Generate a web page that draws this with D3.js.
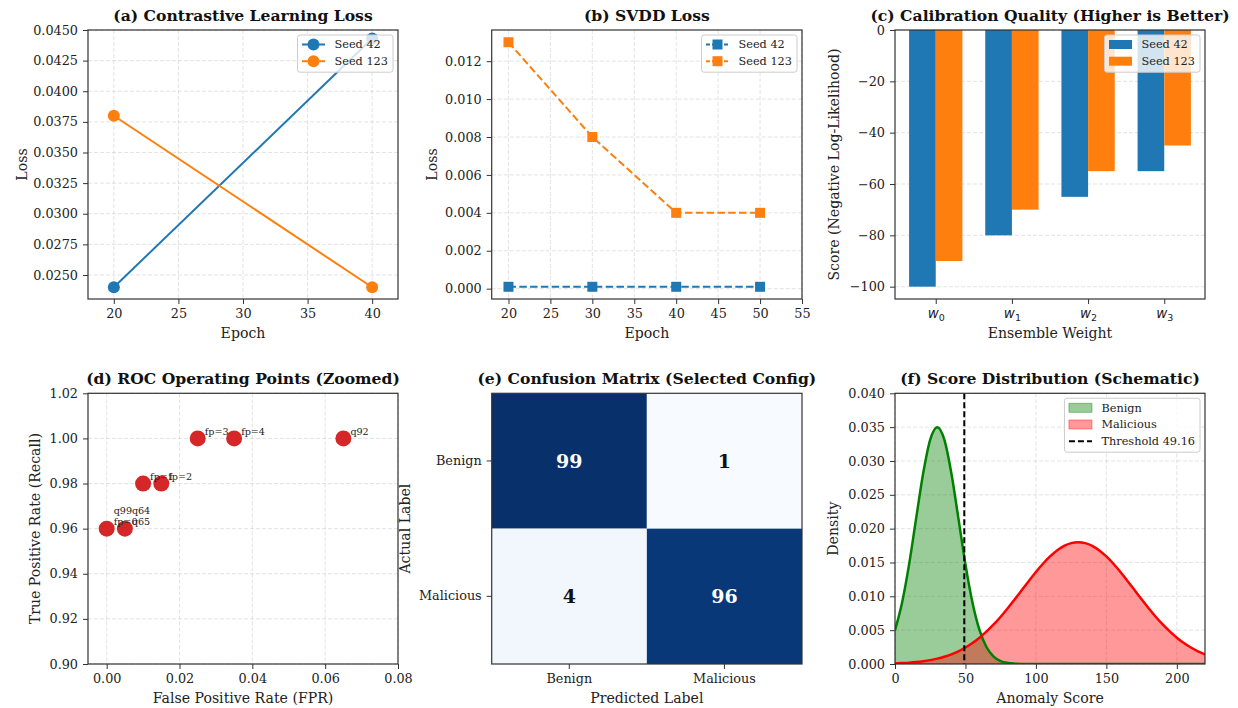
<!DOCTYPE html>
<html>
<head>
<meta charset="utf-8">
<script src="https://cdn.jsdelivr.net/npm/d3@7"></script>
<style>
body { margin: 0; background: #fff; }
svg { display: block; font-family: "DejaVu Serif", serif; }
</style>
</head>
<body>
<svg id="fig" width="1238" height="708"></svg>
<script>
// (a) contrastive learning loss
var contrastEpochs = [20, 40];
var contrastSeed42 = [0.024, 0.0443];
var contrastSeed123 = [0.038, 0.024];

// (b) SVDD loss
var svddEpochs = [20, 30, 40, 50];
var svddSeed42 = [0.0001, 0.0001, 0.0001, 0.0001];
var svddSeed123 = [0.013, 0.008, 0.004, 0.004];

// (c) calibration quality
var weightIdx = ['0', '1', '2', '3'];
var calibSeed42 = [-100, -80, -65, -55];
var calibSeed123 = [-90, -70, -55, -45];

// (d) ROC operating points
var rocFpr = [0, 0.005, 0.01, 0.015, 0.025, 0.035, 0.065];
var rocTpr = [0.96, 0.96, 0.98, 0.98, 1.0, 1.0, 1.0];
var rocLabels = [['fp=0', 'q99'], ['q65', 'q64'], ['fp=1'], ['fp=2'], ['fp=3'], ['fp=4'], ['q92']];

// (e) confusion matrix
var classNames = ['Benign', 'Malicious'];
var confusion = [[99, 1], [4, 96]];

// (f) score distribution
var scoreGrid = [0, 5, 10, 15, 20, 25, 30, 35, 40, 45, 50, 55, 60, 65, 70, 75, 80, 85, 90, 95,
    100, 105, 110, 115, 120, 125, 130, 135, 140, 145, 150, 155, 160, 165, 170, 175, 180, 185,
    190, 195, 200, 205, 210, 215, 220];
var benignDensity = [0.00499, 0.00905, 0.01472, 0.02151, 0.02819, 0.03316, 0.03500, 0.03316,
    0.02819, 0.02151, 0.01472, 0.00905, 0.00499, 0.00247, 0.00110, 0.00044, 0.00016, 0.00005,
    0.00001, 0, 0, 0, 0, 0, 0, 0, 0, 0, 0, 0, 0, 0, 0, 0, 0, 0, 0, 0, 0, 0, 0, 0, 0, 0, 0];
var maliciousDensity = [0.00009, 0.00014, 0.00020, 0.00029, 0.00041, 0.00057, 0.00079, 0.00107,
    0.00143, 0.00188, 0.00244, 0.00310, 0.00389, 0.00481, 0.00584, 0.00699, 0.00824, 0.00956,
    0.01092, 0.01228, 0.01359, 0.01481, 0.01589, 0.01678, 0.01745, 0.01786, 0.01800, 0.01786,
    0.01745, 0.01678, 0.01589, 0.01481, 0.01359, 0.01228, 0.01092, 0.00956, 0.00824, 0.00699,
    0.00584, 0.00481, 0.00389, 0.00310, 0.00244, 0.00188, 0.00143];
var threshold = 49.16;

var BLUE = '#1f77b4', ORANGE = '#ff7f0e', RED = '#d62728';
var SPINE = '#333';
var svg = d3.select('#fig');

var cols = [[88, 398], [491.7, 802], [895, 1205]];
var rows = [[30, 299], [393.3, 664]];

function makePanel(ci, ri, id) {
    var p = { left: cols[ci][0], right: cols[ci][1], top: rows[ri][0], bottom: rows[ri][1], id: id };
    p.g = svg.append('g');
    svg.append('clipPath').attr('id', 'clip-' + id).append('rect')
        .attr('x', p.left).attr('y', p.top)
        .attr('width', p.right - p.left).attr('height', p.bottom - p.top);
    p.gridG = p.g.append('g');
    p.plot = p.g.append('g').attr('clip-path', 'url(#clip-' + id + ')');
    return p;
}

function drawGrid(p, x, y, xt, yt) {
    var g = p.gridG;
    (xt || []).forEach(function(t) {
        g.append('line').attr('x1', x(t)).attr('x2', x(t)).attr('y1', p.top).attr('y2', p.bottom)
            .attr('stroke', '#b0b0b0').attr('stroke-opacity', 0.35).attr('stroke-dasharray', '4,2');
    });
    (yt || []).forEach(function(t) {
        g.append('line').attr('y1', y(t)).attr('y2', y(t)).attr('x1', p.left).attr('x2', p.right)
            .attr('stroke', '#b0b0b0').attr('stroke-opacity', 0.35).attr('stroke-dasharray', '4,2');
    });
}

function styleAxis(sel) {
    sel.select('.domain').remove();
    sel.selectAll('.tick line').attr('stroke', SPINE).attr('stroke-width', 1);
    sel.selectAll('.tick text').attr('fill', '#222').style('font-size', '12.8px')
        .style('font-family', '"DejaVu Serif", serif');
}

function drawAxes(p, xAxis, yAxis) {
    var xg = svg.append('g').attr('transform', 'translate(0,' + p.bottom + ')').call(xAxis);
    styleAxis(xg);
    var yg = svg.append('g').attr('transform', 'translate(' + p.left + ',0)').call(yAxis);
    styleAxis(yg);
    svg.append('rect').attr('x', p.left).attr('y', p.top)
        .attr('width', p.right - p.left).attr('height', p.bottom - p.top)
        .attr('fill', 'none').attr('stroke', SPINE).attr('stroke-width', 1.2);
    return { xg: xg, yg: yg };
}

function labels(p, title, xlabel, ylabel, yOff) {
    svg.append('text').attr('x', (p.left + p.right) / 2).attr('y', p.top - 9.5)
        .attr('text-anchor', 'middle').style('font-size', '15.6px').style('font-weight', 'bold')
        .attr('fill', '#111').text(title);
    if (xlabel) {
        svg.append('text').attr('x', (p.left + p.right) / 2).attr('y', p.bottom + 39)
            .attr('text-anchor', 'middle').style('font-size', '14.1px').attr('fill', '#222').text(xlabel);
    }
    if (ylabel) {
        var lx = p.left - yOff, ly = (p.top + p.bottom) / 2;
        svg.append('text').attr('x', lx).attr('y', ly)
            .attr('transform', 'rotate(-90,' + lx + ',' + ly + ')')
            .attr('text-anchor', 'middle').style('font-size', '14.1px').attr('fill', '#222').text(ylabel);
    }
}

function legend(p, items) {
    var g = svg.append('g');
    var box = g.append('rect');
    var top = p.top + 5, rowH = 16.7;
    var texts = items.map(function(it, i) {
        return g.append('text').attr('y', top + 9.5 + i * rowH).attr('dy', '0.35em')
            .style('font-size', '11.3px').attr('fill', '#222').text(it.label);
    });
    var tw = d3.max(texts, function(t) { return t.node().getComputedTextLength(); });
    var w = 37 + tw + 5, h = 9.5 + (items.length - 1) * rowH + 11;
    var left = p.right - 5 - w;
    box.attr('x', left).attr('y', top).attr('width', w).attr('height', h).attr('rx', 2.5)
        .attr('fill', '#fff').attr('fill-opacity', 0.8).attr('stroke', '#cccccc');
    texts.forEach(function(t) { t.attr('x', left + 37); });
    items.forEach(function(it, i) {
        var cy = top + 9.5 + i * rowH, x0 = left + 4.5, x1 = left + 27.5, cx = (x0 + x1) / 2;
        if (it.type === 'patch') {
            g.append('rect').attr('x', x0).attr('y', cy - 4.5).attr('width', x1 - x0).attr('height', 9)
                .attr('fill', it.color).attr('fill-opacity', it.alpha || 1)
                .attr('stroke', it.edge ? it.color : 'none').attr('stroke-opacity', it.alpha || 1);
        } else {
            g.append('line').attr('x1', x0).attr('x2', x1).attr('y1', cy).attr('y2', cy)
                .attr('stroke', it.color).attr('stroke-width', 2)
                .attr('stroke-dasharray', it.dash || null);
            if (it.marker === 'circle') {
                g.append('circle').attr('cx', cx).attr('cy', cy).attr('r', 6).attr('fill', it.color);
            } else if (it.marker === 'square') {
                g.append('rect').attr('x', cx - 5).attr('y', cy - 5).attr('width', 10).attr('height', 10)
                    .attr('fill', it.color);
            }
        }
    });
}

function zipXY(xs, ys) { return xs.map(function(v, i) { return [v, ys[i]]; }); }

// ---------- (a) ----------
(function() {
    var p = makePanel(0, 0, 'a');
    var x = d3.scaleLinear().domain([18, 42]).range([p.left, p.right]);
    var y = d3.scaleLinear().domain([0.02304, 0.045]).range([p.bottom, p.top]);
    var xt = [20, 25, 30, 35, 40];
    var yt = d3.range(0.025, 0.04501, 0.0025);
    drawGrid(p, x, y, xt, yt);
    var line = d3.line().x(function(d) { return x(d[0]); }).y(function(d) { return y(d[1]); });
    [[contrastSeed42, BLUE], [contrastSeed123, ORANGE]].forEach(function(s) {
        var pts = zipXY(contrastEpochs, s[0]);
        p.plot.append('path').attr('d', line(pts)).attr('fill', 'none').attr('stroke', s[1]).attr('stroke-width', 2);
        p.plot.selectAll(null).data(pts).enter().append('circle')
            .attr('cx', function(d) { return x(d[0]); }).attr('cy', function(d) { return y(d[1]); })
            .attr('r', 6).attr('fill', s[1]);
    });
    drawAxes(p, d3.axisBottom(x).tickValues(xt).tickSize(5).tickPadding(5).tickFormat(d3.format('d')),
        d3.axisLeft(y).tickValues(yt).tickSize(5).tickPadding(5).tickFormat(d3.format('.4f')));
    labels(p, '(a) Contrastive Learning Loss', 'Epoch', 'Loss', 61.3);
    legend(p, [{ label: 'Seed 42', color: BLUE, marker: 'circle' }, { label: 'Seed 123', color: ORANGE, marker: 'circle' }]);
})();

// ---------- (b) ----------
(function() {
    var p = makePanel(1, 0, 'b');
    var x = d3.scaleLinear().domain([18, 55]).range([p.left, p.right]);
    var y = d3.scaleLinear().domain([-0.000545, 0.013645]).range([p.bottom, p.top]);
    var xt = [20, 25, 30, 35, 40, 45, 50, 55];
    var yt = [0, 0.002, 0.004, 0.006, 0.008, 0.010, 0.012];
    drawGrid(p, x, y, xt, yt);
    var line = d3.line().x(function(d) { return x(d[0]); }).y(function(d) { return y(d[1]); });
    [[svddSeed42, BLUE], [svddSeed123, ORANGE]].forEach(function(s) {
        var pts = zipXY(svddEpochs, s[0]);
        p.plot.append('path').attr('d', line(pts)).attr('fill', 'none').attr('stroke', s[1])
            .attr('stroke-width', 2).attr('stroke-dasharray', '7.5,3.3');
        p.plot.selectAll(null).data(pts).enter().append('rect')
            .attr('x', function(d) { return x(d[0]) - 5; }).attr('y', function(d) { return y(d[1]) - 5; })
            .attr('width', 10).attr('height', 10).attr('fill', s[1]);
    });
    drawAxes(p, d3.axisBottom(x).tickValues(xt).tickSize(5).tickPadding(5).tickFormat(d3.format('d')),
        d3.axisLeft(y).tickValues(yt).tickSize(5).tickPadding(5).tickFormat(d3.format('.3f')));
    labels(p, '(b) SVDD Loss', 'Epoch', 'Loss', 55);
    legend(p, [{ label: 'Seed 42', color: BLUE, marker: 'square', dash: '4,2' },
        { label: 'Seed 123', color: ORANGE, marker: 'square', dash: '4,2' }]);
})();

// ---------- (c) ----------
(function() {
    var p = makePanel(2, 0, 'c');
    var x = d3.scaleLinear().domain([-0.535, 3.535]).range([p.left, p.right]);
    var y = d3.scaleLinear().domain([-104.8, 0]).range([p.bottom, p.top]);
    var yt = [0, -20, -40, -60, -80, -100];
    drawGrid(p, x, y, [], yt);
    var bw = 0.35;
    [[calibSeed42, BLUE, -bw], [calibSeed123, ORANGE, 0]].forEach(function(s) {
        p.plot.selectAll(null).data(s[0]).enter().append('rect')
            .attr('x', function(d, i) { return x(i + s[2]); })
            .attr('width', x(bw) - x(0))
            .attr('y', y(0))
            .attr('height', function(d) { return y(d) - y(0); })
            .attr('fill', s[1]);
    });
    var ax = drawAxes(p, d3.axisBottom(x).tickValues([0, 1, 2, 3]).tickSize(5).tickPadding(5).tickFormat(function() { return ''; }),
        d3.axisLeft(y).tickValues(yt).tickSize(5).tickPadding(5).tickFormat(d3.format('d')));
    ax.xg.selectAll('.tick text').each(function(d, i) {
        var t = d3.select(this).text('').style('font-family', '"DejaVu Sans", sans-serif');
        t.append('tspan').style('font-style', 'italic').style('font-size', '13.5px').text('w');
        t.append('tspan').attr('dy', '0.3em').style('font-size', '9.5px').text(weightIdx[i]);
    });
    labels(p, '(c) Calibration Quality (Higher is Better)', 'Ensemble Weight', 'Score (Negative Log-Likelihood)', 56);
    legend(p, [{ label: 'Seed 42', color: BLUE, type: 'patch' }, { label: 'Seed 123', color: ORANGE, type: 'patch' }]);
})();

// ---------- (d) ----------
(function() {
    var p = makePanel(0, 1, 'd');
    var x = d3.scaleLinear().domain([-0.00513, 0.08]).range([p.left, p.right]);
    var y = d3.scaleLinear().domain([0.90, 1.02]).range([p.bottom, p.top]);
    var xt = [0, 0.02, 0.04, 0.06, 0.08];
    var yt = [0.90, 0.92, 0.94, 0.96, 0.98, 1.00, 1.02];
    drawGrid(p, x, y, xt, yt);
    var pts = zipXY(rocFpr, rocTpr);
    p.plot.selectAll(null).data(pts).enter().append('circle')
        .attr('cx', function(d) { return x(d[0]); }).attr('cy', function(d) { return y(d[1]); })
        .attr('r', 8).attr('fill', RED);
    pts.forEach(function(d, i) {
        rocLabels[i].forEach(function(lab, k) {
            svg.append('text').attr('x', x(d[0]) + 7).attr('y', y(d[1]) - 3.5 - k * 11)
                .style('font-size', '9.6px').attr('fill', '#222').text(lab);
        });
    });
    drawAxes(p, d3.axisBottom(x).tickValues(xt).tickSize(5).tickPadding(5).tickFormat(d3.format('.2f')),
        d3.axisLeft(y).tickValues(yt).tickSize(5).tickPadding(5).tickFormat(d3.format('.2f')));
    labels(p, '(d) ROC Operating Points (Zoomed)', 'False Positive Rate (FPR)', 'True Positive Rate (Recall)', 48);
})();

// ---------- (e) ----------
(function() {
    var p = makePanel(1, 1, 'e');
    var x = d3.scaleBand().domain(classNames).range([p.left, p.right]);
    var y = d3.scaleBand().domain(classNames).range([p.top, p.bottom]);
    var flat = [];
    confusion.forEach(function(row, r) { row.forEach(function(v, c) { flat.push({ r: r, c: c, v: v }); }); });
    var vmax = d3.max(flat, function(d) { return d.v; }), vmin = d3.min(flat, function(d) { return d.v; });
    var color = d3.scaleSequential(d3.interpolateBlues).domain([vmin, vmax]);
    p.plot.selectAll(null).data(flat).enter().append('rect')
        .attr('x', function(d) { return x(classNames[d.c]); }).attr('y', function(d) { return y(classNames[d.r]); })
        .attr('width', x.bandwidth()).attr('height', y.bandwidth())
        .attr('fill', function(d) { return color(d.v); });
    p.plot.selectAll(null).data(flat).enter().append('text')
        .attr('x', function(d) { return x(classNames[d.c]) + x.bandwidth() / 2; })
        .attr('y', function(d) { return y(classNames[d.r]) + y.bandwidth() / 2; })
        .attr('dy', '0.36em').attr('text-anchor', 'middle')
        .style('font-size', '19px').style('font-weight', 'bold')
        .attr('fill', function(d) { return d.v > vmax / 2 ? '#fff' : '#111'; })
        .text(function(d) { return d.v; });
    drawAxes(p, d3.axisBottom(x).tickSize(5).tickPadding(5), d3.axisLeft(y).tickSize(5).tickPadding(5));
    labels(p, '(e) Confusion Matrix (Selected Config)', 'Predicted Label', 'Actual Label', 81.7);
})();

// ---------- (f) ----------
(function() {
    var p = makePanel(2, 1, 'f');
    var x = d3.scaleLinear().domain([0, 220]).range([p.left, p.right]);
    var y = d3.scaleLinear().domain([0, 0.04]).range([p.bottom, p.top]);
    var xt = [0, 50, 100, 150, 200];
    var yt = [0, 0.005, 0.010, 0.015, 0.020, 0.025, 0.030, 0.035, 0.040];
    drawGrid(p, x, y, xt, yt);
    var area = d3.area().curve(d3.curveMonotoneX)
        .x(function(d) { return x(d[0]); }).y0(y(0)).y1(function(d) { return y(d[1]); });
    var line = d3.line().curve(d3.curveMonotoneX)
        .x(function(d) { return x(d[0]); }).y(function(d) { return y(d[1]); });
    var ben = zipXY(scoreGrid, benignDensity), mal = zipXY(scoreGrid, maliciousDensity);
    p.plot.append('path').attr('d', area(ben)).attr('fill', 'green').attr('fill-opacity', 0.4)
        .attr('stroke', 'green').attr('stroke-opacity', 0.4);
    p.plot.append('path').attr('d', area(mal)).attr('fill', 'red').attr('fill-opacity', 0.4)
        .attr('stroke', 'red').attr('stroke-opacity', 0.4);
    p.plot.append('path').attr('d', line(ben)).attr('fill', 'none').attr('stroke', 'green').attr('stroke-width', 2.5);
    p.plot.append('path').attr('d', line(mal)).attr('fill', 'none').attr('stroke', 'red').attr('stroke-width', 2.5);
    p.plot.append('line').attr('x1', x(threshold)).attr('x2', x(threshold)).attr('y1', p.top).attr('y2', p.bottom)
        .attr('stroke', '#000').attr('stroke-width', 2).attr('stroke-dasharray', '6,3');
    drawAxes(p, d3.axisBottom(x).tickValues(xt).tickSize(5).tickPadding(5).tickFormat(d3.format('d')),
        d3.axisLeft(y).tickValues(yt).tickSize(5).tickPadding(5).tickFormat(d3.format('.3f')));
    labels(p, '(f) Score Distribution (Schematic)', 'Anomaly Score', 'Density', 57);
    legend(p, [{ label: 'Benign', color: 'green', type: 'patch', alpha: 0.4, edge: true },
        { label: 'Malicious', color: 'red', type: 'patch', alpha: 0.4, edge: true },
        { label: 'Threshold ' + threshold.toFixed(2), color: '#000', dash: '6,3' }]);
})();
</script>
</body>
</html>
